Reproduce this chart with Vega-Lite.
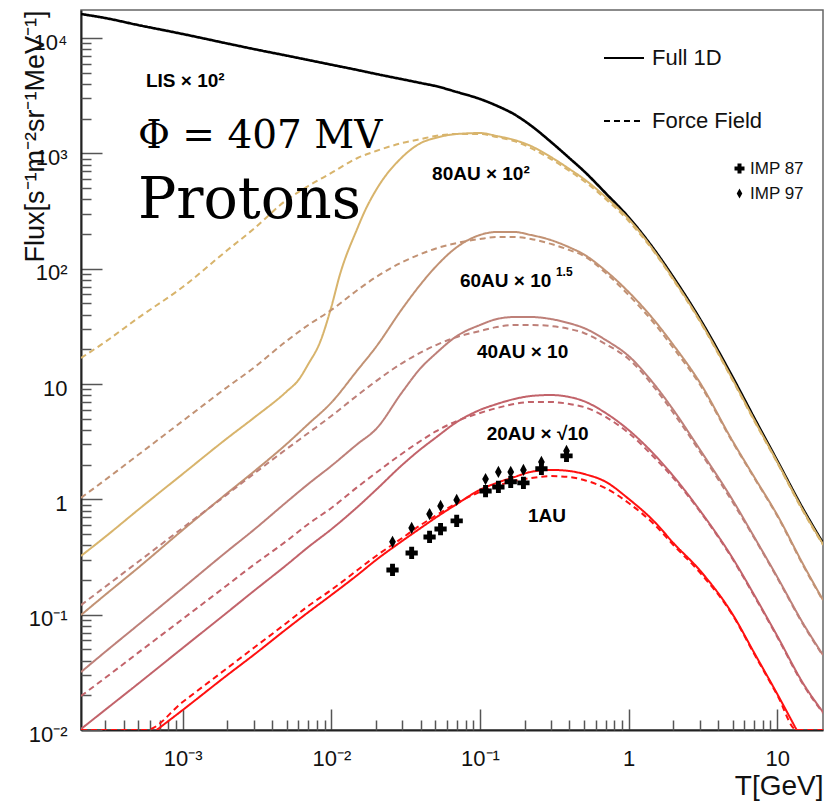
{
  "$schema": "https://vega.github.io/schema/vega-lite/v6.json",
  "autosize": {"type": "none"},
  "padding": {"left": 81, "top": 10, "right": 4, "bottom": 71},
  "width": 742,
  "height": 720,
  "background": "white",
  "config": {
    "view": {"stroke": "#666666", "strokeWidth": 1.5},
    "font": "Liberation Sans",
    "axis": {"grid": false, "labelFont": "Liberation Sans", "titleFont": "Liberation Sans", "labelColor": "#111111", "titleColor": "#111111", "titleFontWeight": "normal", "labelOverlap": false, "labelFlush": false}
  },
  "datasets": {
    "curves": [
      {"curve": "LIS", "model": "Full 1D", "T": 0.000207, "F": 16150},
      {"curve": "LIS", "model": "Full 1D", "T": 0.0003, "F": 14920},
      {"curve": "LIS", "model": "Full 1D", "T": 0.0005, "F": 12970},
      {"curve": "LIS", "model": "Full 1D", "T": 0.001, "F": 10840},
      {"curve": "LIS", "model": "Full 1D", "T": 0.002, "F": 8960},
      {"curve": "LIS", "model": "Full 1D", "T": 0.003, "F": 8030},
      {"curve": "LIS", "model": "Full 1D", "T": 0.005, "F": 7040},
      {"curve": "LIS", "model": "Full 1D", "T": 0.007, "F": 6450},
      {"curve": "LIS", "model": "Full 1D", "T": 0.01, "F": 5870},
      {"curve": "LIS", "model": "Full 1D", "T": 0.015, "F": 5280},
      {"curve": "LIS", "model": "Full 1D", "T": 0.02, "F": 4880},
      {"curve": "LIS", "model": "Full 1D", "T": 0.03, "F": 4390},
      {"curve": "LIS", "model": "Full 1D", "T": 0.04, "F": 4070},
      {"curve": "LIS", "model": "Full 1D", "T": 0.05, "F": 3840},
      {"curve": "LIS", "model": "Full 1D", "T": 0.07, "F": 3400},
      {"curve": "LIS", "model": "Full 1D", "T": 0.1, "F": 2960},
      {"curve": "LIS", "model": "Full 1D", "T": 0.13, "F": 2584},
      {"curve": "LIS", "model": "Full 1D", "T": 0.17, "F": 2181},
      {"curve": "LIS", "model": "Full 1D", "T": 0.22, "F": 1743},
      {"curve": "LIS", "model": "Full 1D", "T": 0.3, "F": 1257},
      {"curve": "LIS", "model": "Full 1D", "T": 0.4, "F": 908},
      {"curve": "LIS", "model": "Full 1D", "T": 0.5, "F": 702},
      {"curve": "LIS", "model": "Full 1D", "T": 0.7, "F": 452},
      {"curve": "LIS", "model": "Full 1D", "T": 1, "F": 279},
      {"curve": "LIS", "model": "Full 1D", "T": 1.5, "F": 144},
      {"curve": "LIS", "model": "Full 1D", "T": 2, "F": 84.2},
      {"curve": "LIS", "model": "Full 1D", "T": 3, "F": 37.1},
      {"curve": "LIS", "model": "Full 1D", "T": 5, "F": 11.5},
      {"curve": "LIS", "model": "Full 1D", "T": 7, "F": 5.07},
      {"curve": "LIS", "model": "Full 1D", "T": 10, "F": 2.16},
      {"curve": "LIS", "model": "Full 1D", "T": 15, "F": 0.813},
      {"curve": "LIS", "model": "Full 1D", "T": 20.3, "F": 0.418},

      {"curve": "80AU", "model": "Force Field", "T": 0.000207, "F": 16.8},
      {"curve": "80AU", "model": "Force Field", "T": 0.0003, "F": 23.1},
      {"curve": "80AU", "model": "Force Field", "T": 0.0005, "F": 37.3},
      {"curve": "80AU", "model": "Force Field", "T": 0.001, "F": 69.3},
      {"curve": "80AU", "model": "Force Field", "T": 0.002, "F": 145},
      {"curve": "80AU", "model": "Force Field", "T": 0.003, "F": 221},
      {"curve": "80AU", "model": "Force Field", "T": 0.005, "F": 394},
      {"curve": "80AU", "model": "Force Field", "T": 0.007, "F": 521},
      {"curve": "80AU", "model": "Force Field", "T": 0.01, "F": 676},
      {"curve": "80AU", "model": "Force Field", "T": 0.015, "F": 912},
      {"curve": "80AU", "model": "Force Field", "T": 0.02, "F": 1048},
      {"curve": "80AU", "model": "Force Field", "T": 0.03, "F": 1230},
      {"curve": "80AU", "model": "Force Field", "T": 0.04, "F": 1331},
      {"curve": "80AU", "model": "Force Field", "T": 0.05, "F": 1413},
      {"curve": "80AU", "model": "Force Field", "T": 0.07, "F": 1472},
      {"curve": "80AU", "model": "Force Field", "T": 0.1, "F": 1472},
      {"curve": "80AU", "model": "Force Field", "T": 0.13, "F": 1386},
      {"curve": "80AU", "model": "Force Field", "T": 0.17, "F": 1279},
      {"curve": "80AU", "model": "Force Field", "T": 0.22, "F": 1112},
      {"curve": "80AU", "model": "Force Field", "T": 0.3, "F": 893},
      {"curve": "80AU", "model": "Force Field", "T": 0.4, "F": 703},
      {"curve": "80AU", "model": "Force Field", "T": 0.5, "F": 576},
      {"curve": "80AU", "model": "Force Field", "T": 0.7, "F": 402},
      {"curve": "80AU", "model": "Force Field", "T": 1, "F": 259},
      {"curve": "80AU", "model": "Force Field", "T": 1.5, "F": 137},
      {"curve": "80AU", "model": "Force Field", "T": 2, "F": 79.8},
      {"curve": "80AU", "model": "Force Field", "T": 3, "F": 35.2},
      {"curve": "80AU", "model": "Force Field", "T": 5, "F": 10.8},
      {"curve": "80AU", "model": "Force Field", "T": 7, "F": 4.78},
      {"curve": "80AU", "model": "Force Field", "T": 10, "F": 2.07},
      {"curve": "80AU", "model": "Force Field", "T": 15, "F": 0.776},
      {"curve": "80AU", "model": "Force Field", "T": 20.3, "F": 0.402},

      {"curve": "80AU", "model": "Full 1D", "T": 0.000207, "F": 0.323},
      {"curve": "80AU", "model": "Full 1D", "T": 0.0003, "F": 0.471},
      {"curve": "80AU", "model": "Full 1D", "T": 0.0005, "F": 0.809},
      {"curve": "80AU", "model": "Full 1D", "T": 0.001, "F": 1.66},
      {"curve": "80AU", "model": "Full 1D", "T": 0.002, "F": 3.4},
      {"curve": "80AU", "model": "Full 1D", "T": 0.003, "F": 5.07},
      {"curve": "80AU", "model": "Full 1D", "T": 0.005, "F": 8.61},
      {"curve": "80AU", "model": "Full 1D", "T": 0.006, "F": 10.8},
      {"curve": "80AU", "model": "Full 1D", "T": 0.007, "F": 14.9},
      {"curve": "80AU", "model": "Full 1D", "T": 0.0084, "F": 23.1},
      {"curve": "80AU", "model": "Full 1D", "T": 0.01, "F": 46.6},
      {"curve": "80AU", "model": "Full 1D", "T": 0.0114, "F": 88.1},
      {"curve": "80AU", "model": "Full 1D", "T": 0.015, "F": 225},
      {"curve": "80AU", "model": "Full 1D", "T": 0.0168, "F": 316},
      {"curve": "80AU", "model": "Full 1D", "T": 0.02, "F": 481},
      {"curve": "80AU", "model": "Full 1D", "T": 0.03, "F": 929},
      {"curve": "80AU", "model": "Full 1D", "T": 0.04, "F": 1230},
      {"curve": "80AU", "model": "Full 1D", "T": 0.05, "F": 1359},
      {"curve": "80AU", "model": "Full 1D", "T": 0.07, "F": 1472},
      {"curve": "80AU", "model": "Full 1D", "T": 0.1, "F": 1500},
      {"curve": "80AU", "model": "Full 1D", "T": 0.13, "F": 1413},
      {"curve": "80AU", "model": "Full 1D", "T": 0.17, "F": 1306},
      {"curve": "80AU", "model": "Full 1D", "T": 0.22, "F": 1158},
      {"curve": "80AU", "model": "Full 1D", "T": 0.3, "F": 929},
      {"curve": "80AU", "model": "Full 1D", "T": 0.4, "F": 731},
      {"curve": "80AU", "model": "Full 1D", "T": 0.5, "F": 600},
      {"curve": "80AU", "model": "Full 1D", "T": 0.7, "F": 419},
      {"curve": "80AU", "model": "Full 1D", "T": 1, "F": 270},
      {"curve": "80AU", "model": "Full 1D", "T": 1.5, "F": 140},
      {"curve": "80AU", "model": "Full 1D", "T": 2, "F": 81.4},
      {"curve": "80AU", "model": "Full 1D", "T": 3, "F": 35.9},
      {"curve": "80AU", "model": "Full 1D", "T": 5, "F": 11.0},
      {"curve": "80AU", "model": "Full 1D", "T": 7, "F": 4.88},
      {"curve": "80AU", "model": "Full 1D", "T": 10, "F": 2.11},
      {"curve": "80AU", "model": "Full 1D", "T": 15, "F": 0.793},
      {"curve": "80AU", "model": "Full 1D", "T": 20.3, "F": 0.41},

      {"curve": "60AU", "model": "Force Field", "T": 0.000207, "F": 1.03},
      {"curve": "60AU", "model": "Force Field", "T": 0.0003, "F": 1.47},
      {"curve": "60AU", "model": "Force Field", "T": 0.0005, "F": 2.42},
      {"curve": "60AU", "model": "Force Field", "T": 0.001, "F": 4.78},
      {"curve": "60AU", "model": "Force Field", "T": 0.002, "F": 9.42},
      {"curve": "60AU", "model": "Force Field", "T": 0.003, "F": 13.8},
      {"curve": "60AU", "model": "Force Field", "T": 0.005, "F": 23.6},
      {"curve": "60AU", "model": "Force Field", "T": 0.007, "F": 32.5},
      {"curve": "60AU", "model": "Force Field", "T": 0.01, "F": 43.8},
      {"curve": "60AU", "model": "Force Field", "T": 0.015, "F": 65.3},
      {"curve": "60AU", "model": "Force Field", "T": 0.02, "F": 84.7},
      {"curve": "60AU", "model": "Force Field", "T": 0.03, "F": 114},
      {"curve": "60AU", "model": "Force Field", "T": 0.04, "F": 134},
      {"curve": "60AU", "model": "Force Field", "T": 0.05, "F": 149},
      {"curve": "60AU", "model": "Force Field", "T": 0.07, "F": 167},
      {"curve": "60AU", "model": "Force Field", "T": 0.1, "F": 181},
      {"curve": "60AU", "model": "Force Field", "T": 0.13, "F": 188},
      {"curve": "60AU", "model": "Force Field", "T": 0.17, "F": 188},
      {"curve": "60AU", "model": "Force Field", "T": 0.22, "F": 181},
      {"curve": "60AU", "model": "Force Field", "T": 0.3, "F": 164},
      {"curve": "60AU", "model": "Force Field", "T": 0.4, "F": 145},
      {"curve": "60AU", "model": "Force Field", "T": 0.5, "F": 129},
      {"curve": "60AU", "model": "Force Field", "T": 0.7, "F": 92},
      {"curve": "60AU", "model": "Force Field", "T": 1, "F": 59.1},
      {"curve": "60AU", "model": "Force Field", "T": 1.5, "F": 33.1},
      {"curve": "60AU", "model": "Force Field", "T": 2, "F": 20.5},
      {"curve": "60AU", "model": "Force Field", "T": 3, "F": 10.0},
      {"curve": "60AU", "model": "Force Field", "T": 5, "F": 3.14},
      {"curve": "60AU", "model": "Force Field", "T": 7, "F": 1.53},
      {"curve": "60AU", "model": "Force Field", "T": 10, "F": 0.718},
      {"curve": "60AU", "model": "Force Field", "T": 15, "F": 0.264},
      {"curve": "60AU", "model": "Force Field", "T": 20.3, "F": 0.132},

      {"curve": "60AU", "model": "Full 1D", "T": 0.000207, "F": 0.0993},
      {"curve": "60AU", "model": "Full 1D", "T": 0.0003, "F": 0.148},
      {"curve": "60AU", "model": "Full 1D", "T": 0.0005, "F": 0.254},
      {"curve": "60AU", "model": "Full 1D", "T": 0.001, "F": 0.542},
      {"curve": "60AU", "model": "Full 1D", "T": 0.002, "F": 1.135},
      {"curve": "60AU", "model": "Full 1D", "T": 0.003, "F": 1.73},
      {"curve": "60AU", "model": "Full 1D", "T": 0.005, "F": 3.02},
      {"curve": "60AU", "model": "Full 1D", "T": 0.007, "F": 4.5},
      {"curve": "60AU", "model": "Full 1D", "T": 0.01, "F": 6.9},
      {"curve": "60AU", "model": "Full 1D", "T": 0.015, "F": 13.2},
      {"curve": "60AU", "model": "Full 1D", "T": 0.02, "F": 21.0},
      {"curve": "60AU", "model": "Full 1D", "T": 0.03, "F": 45},
      {"curve": "60AU", "model": "Full 1D", "T": 0.04, "F": 73.6},
      {"curve": "60AU", "model": "Full 1D", "T": 0.05, "F": 103},
      {"curve": "60AU", "model": "Full 1D", "T": 0.07, "F": 154},
      {"curve": "60AU", "model": "Full 1D", "T": 0.1, "F": 196},
      {"curve": "60AU", "model": "Full 1D", "T": 0.13, "F": 208},
      {"curve": "60AU", "model": "Full 1D", "T": 0.17, "F": 208},
      {"curve": "60AU", "model": "Full 1D", "T": 0.22, "F": 196},
      {"curve": "60AU", "model": "Full 1D", "T": 0.3, "F": 177},
      {"curve": "60AU", "model": "Full 1D", "T": 0.4, "F": 153},
      {"curve": "60AU", "model": "Full 1D", "T": 0.5, "F": 133},
      {"curve": "60AU", "model": "Full 1D", "T": 0.7, "F": 96},
      {"curve": "60AU", "model": "Full 1D", "T": 1, "F": 62.8},
      {"curve": "60AU", "model": "Full 1D", "T": 1.5, "F": 35.2},
      {"curve": "60AU", "model": "Full 1D", "T": 2, "F": 21.8},
      {"curve": "60AU", "model": "Full 1D", "T": 3, "F": 10.4},
      {"curve": "60AU", "model": "Full 1D", "T": 5, "F": 3.21},
      {"curve": "60AU", "model": "Full 1D", "T": 7, "F": 1.56},
      {"curve": "60AU", "model": "Full 1D", "T": 10, "F": 0.731},
      {"curve": "60AU", "model": "Full 1D", "T": 15, "F": 0.27},
      {"curve": "60AU", "model": "Full 1D", "T": 20.3, "F": 0.134},

      {"curve": "40AU", "model": "Force Field", "T": 0.000207, "F": 0.121},
      {"curve": "40AU", "model": "Force Field", "T": 0.0003, "F": 0.174},
      {"curve": "40AU", "model": "Force Field", "T": 0.0005, "F": 0.286},
      {"curve": "40AU", "model": "Force Field", "T": 0.001, "F": 0.565},
      {"curve": "40AU", "model": "Force Field", "T": 0.002, "F": 1.11},
      {"curve": "40AU", "model": "Force Field", "T": 0.003, "F": 1.66},
      {"curve": "40AU", "model": "Force Field", "T": 0.005, "F": 2.73},
      {"curve": "40AU", "model": "Force Field", "T": 0.007, "F": 3.76},
      {"curve": "40AU", "model": "Force Field", "T": 0.01, "F": 5.28},
      {"curve": "40AU", "model": "Force Field", "T": 0.015, "F": 8.0},
      {"curve": "40AU", "model": "Force Field", "T": 0.02, "F": 10.6},
      {"curve": "40AU", "model": "Force Field", "T": 0.03, "F": 15.2},
      {"curve": "40AU", "model": "Force Field", "T": 0.04, "F": 18.8},
      {"curve": "40AU", "model": "Force Field", "T": 0.05, "F": 21.6},
      {"curve": "40AU", "model": "Force Field", "T": 0.07, "F": 25.6},
      {"curve": "40AU", "model": "Force Field", "T": 0.1, "F": 28.8},
      {"curve": "40AU", "model": "Force Field", "T": 0.13, "F": 31.2},
      {"curve": "40AU", "model": "Force Field", "T": 0.17, "F": 32.5},
      {"curve": "40AU", "model": "Force Field", "T": 0.22, "F": 32.5},
      {"curve": "40AU", "model": "Force Field", "T": 0.3, "F": 31.8},
      {"curve": "40AU", "model": "Force Field", "T": 0.4, "F": 30.0},
      {"curve": "40AU", "model": "Force Field", "T": 0.5, "F": 27.7},
      {"curve": "40AU", "model": "Force Field", "T": 0.7, "F": 22.2},
      {"curve": "40AU", "model": "Force Field", "T": 1, "F": 16.5},
      {"curve": "40AU", "model": "Force Field", "T": 1.5, "F": 9.23},
      {"curve": "40AU", "model": "Force Field", "T": 2, "F": 5.61},
      {"curve": "40AU", "model": "Force Field", "T": 3, "F": 2.62},
      {"curve": "40AU", "model": "Force Field", "T": 5, "F": 0.948},
      {"curve": "40AU", "model": "Force Field", "T": 7, "F": 0.462},
      {"curve": "40AU", "model": "Force Field", "T": 10, "F": 0.208},
      {"curve": "40AU", "model": "Force Field", "T": 15, "F": 0.0813},
      {"curve": "40AU", "model": "Force Field", "T": 20.3, "F": 0.0439},

      {"curve": "40AU", "model": "Full 1D", "T": 0.000207, "F": 0.0318},
      {"curve": "40AU", "model": "Full 1D", "T": 0.0003, "F": 0.0474},
      {"curve": "40AU", "model": "Full 1D", "T": 0.0005, "F": 0.0813},
      {"curve": "40AU", "model": "Full 1D", "T": 0.001, "F": 0.17},
      {"curve": "40AU", "model": "Full 1D", "T": 0.002, "F": 0.356},
      {"curve": "40AU", "model": "Full 1D", "T": 0.003, "F": 0.542},
      {"curve": "40AU", "model": "Full 1D", "T": 0.005, "F": 0.948},
      {"curve": "40AU", "model": "Full 1D", "T": 0.007, "F": 1.36},
      {"curve": "40AU", "model": "Full 1D", "T": 0.01, "F": 1.95},
      {"curve": "40AU", "model": "Full 1D", "T": 0.015, "F": 3.02},
      {"curve": "40AU", "model": "Full 1D", "T": 0.02, "F": 4.07},
      {"curve": "40AU", "model": "Full 1D", "T": 0.03, "F": 8.53},
      {"curve": "40AU", "model": "Full 1D", "T": 0.04, "F": 13.8},
      {"curve": "40AU", "model": "Full 1D", "T": 0.05, "F": 18.2},
      {"curve": "40AU", "model": "Full 1D", "T": 0.07, "F": 26.1},
      {"curve": "40AU", "model": "Full 1D", "T": 0.1, "F": 32.5},
      {"curve": "40AU", "model": "Full 1D", "T": 0.13, "F": 36.6},
      {"curve": "40AU", "model": "Full 1D", "T": 0.17, "F": 38.1},
      {"curve": "40AU", "model": "Full 1D", "T": 0.22, "F": 38.1},
      {"curve": "40AU", "model": "Full 1D", "T": 0.3, "F": 36.6},
      {"curve": "40AU", "model": "Full 1D", "T": 0.4, "F": 33.6},
      {"curve": "40AU", "model": "Full 1D", "T": 0.5, "F": 30.6},
      {"curve": "40AU", "model": "Full 1D", "T": 0.7, "F": 24.1},
      {"curve": "40AU", "model": "Full 1D", "T": 1, "F": 17.5},
      {"curve": "40AU", "model": "Full 1D", "T": 1.5, "F": 9.8},
      {"curve": "40AU", "model": "Full 1D", "T": 2, "F": 5.96},
      {"curve": "40AU", "model": "Full 1D", "T": 3, "F": 2.73},
      {"curve": "40AU", "model": "Full 1D", "T": 5, "F": 0.989},
      {"curve": "40AU", "model": "Full 1D", "T": 7, "F": 0.471},
      {"curve": "40AU", "model": "Full 1D", "T": 10, "F": 0.212},
      {"curve": "40AU", "model": "Full 1D", "T": 15, "F": 0.083},
      {"curve": "40AU", "model": "Full 1D", "T": 20.3, "F": 0.0447},

      {"curve": "20AU", "model": "Force Field", "T": 0.000207, "F": 0.0197},
      {"curve": "20AU", "model": "Force Field", "T": 0.0003, "F": 0.0282},
      {"curve": "20AU", "model": "Force Field", "T": 0.0005, "F": 0.0466},
      {"curve": "20AU", "model": "Force Field", "T": 0.001, "F": 0.0917},
      {"curve": "20AU", "model": "Force Field", "T": 0.002, "F": 0.181},
      {"curve": "20AU", "model": "Force Field", "T": 0.003, "F": 0.27},
      {"curve": "20AU", "model": "Force Field", "T": 0.005, "F": 0.436},
      {"curve": "20AU", "model": "Force Field", "T": 0.007, "F": 0.611},
      {"curve": "20AU", "model": "Force Field", "T": 0.01, "F": 0.841},
      {"curve": "20AU", "model": "Force Field", "T": 0.015, "F": 1.28},
      {"curve": "20AU", "model": "Force Field", "T": 0.02, "F": 1.7},
      {"curve": "20AU", "model": "Force Field", "T": 0.03, "F": 2.5},
      {"curve": "20AU", "model": "Force Field", "T": 0.04, "F": 3.22},
      {"curve": "20AU", "model": "Force Field", "T": 0.05, "F": 3.86},
      {"curve": "20AU", "model": "Force Field", "T": 0.07, "F": 4.78},
      {"curve": "20AU", "model": "Force Field", "T": 0.1, "F": 5.61},
      {"curve": "20AU", "model": "Force Field", "T": 0.13, "F": 6.19},
      {"curve": "20AU", "model": "Force Field", "T": 0.17, "F": 6.71},
      {"curve": "20AU", "model": "Force Field", "T": 0.22, "F": 6.98},
      {"curve": "20AU", "model": "Force Field", "T": 0.3, "F": 6.98},
      {"curve": "20AU", "model": "Force Field", "T": 0.4, "F": 6.71},
      {"curve": "20AU", "model": "Force Field", "T": 0.5, "F": 6.32},
      {"curve": "20AU", "model": "Force Field", "T": 0.7, "F": 5.18},
      {"curve": "20AU", "model": "Force Field", "T": 1, "F": 3.76},
      {"curve": "20AU", "model": "Force Field", "T": 1.5, "F": 2.28},
      {"curve": "20AU", "model": "Force Field", "T": 2, "F": 1.53},
      {"curve": "20AU", "model": "Force Field", "T": 3, "F": 0.793},
      {"curve": "20AU", "model": "Force Field", "T": 5, "F": 0.304},
      {"curve": "20AU", "model": "Force Field", "T": 7, "F": 0.145},
      {"curve": "20AU", "model": "Force Field", "T": 10, "F": 0.064},
      {"curve": "20AU", "model": "Force Field", "T": 15, "F": 0.0245},
      {"curve": "20AU", "model": "Force Field", "T": 20.3, "F": 0.014},

      {"curve": "20AU", "model": "Full 1D", "T": 0.000207, "F": 0.0102},
      {"curve": "20AU", "model": "Full 1D", "T": 0.0003, "F": 0.0149},
      {"curve": "20AU", "model": "Full 1D", "T": 0.0005, "F": 0.0251},
      {"curve": "20AU", "model": "Full 1D", "T": 0.001, "F": 0.0514},
      {"curve": "20AU", "model": "Full 1D", "T": 0.002, "F": 0.105},
      {"curve": "20AU", "model": "Full 1D", "T": 0.003, "F": 0.16},
      {"curve": "20AU", "model": "Full 1D", "T": 0.005, "F": 0.27},
      {"curve": "20AU", "model": "Full 1D", "T": 0.007, "F": 0.386},
      {"curve": "20AU", "model": "Full 1D", "T": 0.01, "F": 0.55},
      {"curve": "20AU", "model": "Full 1D", "T": 0.015, "F": 0.859},
      {"curve": "20AU", "model": "Full 1D", "T": 0.02, "F": 1.21},
      {"curve": "20AU", "model": "Full 1D", "T": 0.03, "F": 1.99},
      {"curve": "20AU", "model": "Full 1D", "T": 0.04, "F": 2.73},
      {"curve": "20AU", "model": "Full 1D", "T": 0.05, "F": 3.4},
      {"curve": "20AU", "model": "Full 1D", "T": 0.07, "F": 4.69},
      {"curve": "20AU", "model": "Full 1D", "T": 0.1, "F": 5.96},
      {"curve": "20AU", "model": "Full 1D", "T": 0.13, "F": 6.71},
      {"curve": "20AU", "model": "Full 1D", "T": 0.17, "F": 7.41},
      {"curve": "20AU", "model": "Full 1D", "T": 0.22, "F": 7.87},
      {"curve": "20AU", "model": "Full 1D", "T": 0.3, "F": 8.03},
      {"curve": "20AU", "model": "Full 1D", "T": 0.4, "F": 7.71},
      {"curve": "20AU", "model": "Full 1D", "T": 0.5, "F": 7.1},
      {"curve": "20AU", "model": "Full 1D", "T": 0.7, "F": 5.61},
      {"curve": "20AU", "model": "Full 1D", "T": 1, "F": 3.99},
      {"curve": "20AU", "model": "Full 1D", "T": 1.5, "F": 2.42},
      {"curve": "20AU", "model": "Full 1D", "T": 2, "F": 1.59},
      {"curve": "20AU", "model": "Full 1D", "T": 3, "F": 0.809},
      {"curve": "20AU", "model": "Full 1D", "T": 5, "F": 0.31},
      {"curve": "20AU", "model": "Full 1D", "T": 7, "F": 0.148},
      {"curve": "20AU", "model": "Full 1D", "T": 10, "F": 0.0653},
      {"curve": "20AU", "model": "Full 1D", "T": 15, "F": 0.0251},
      {"curve": "20AU", "model": "Full 1D", "T": 20.3, "F": 0.0143},

      {"curve": "1AU", "model": "Force Field", "T": 0.000207, "F": 0.0038},
      {"curve": "1AU", "model": "Force Field", "T": 0.0005, "F": 0.0089},
      {"curve": "1AU", "model": "Force Field", "T": 0.000566, "F": 0.01},
      {"curve": "1AU", "model": "Force Field", "T": 0.001, "F": 0.0175},
      {"curve": "1AU", "model": "Force Field", "T": 0.002, "F": 0.0345},
      {"curve": "1AU", "model": "Force Field", "T": 0.003, "F": 0.0514},
      {"curve": "1AU", "model": "Force Field", "T": 0.005, "F": 0.0848},
      {"curve": "1AU", "model": "Force Field", "T": 0.007, "F": 0.119},
      {"curve": "1AU", "model": "Force Field", "T": 0.01, "F": 0.164},
      {"curve": "1AU", "model": "Force Field", "T": 0.015, "F": 0.244},
      {"curve": "1AU", "model": "Force Field", "T": 0.02, "F": 0.323},
      {"curve": "1AU", "model": "Force Field", "T": 0.03, "F": 0.462},
      {"curve": "1AU", "model": "Force Field", "T": 0.04, "F": 0.6},
      {"curve": "1AU", "model": "Force Field", "T": 0.05, "F": 0.718},
      {"curve": "1AU", "model": "Force Field", "T": 0.07, "F": 0.929},
      {"curve": "1AU", "model": "Force Field", "T": 0.1, "F": 1.16},
      {"curve": "1AU", "model": "Force Field", "T": 0.13, "F": 1.31},
      {"curve": "1AU", "model": "Force Field", "T": 0.17, "F": 1.44},
      {"curve": "1AU", "model": "Force Field", "T": 0.22, "F": 1.53},
      {"curve": "1AU", "model": "Force Field", "T": 0.3, "F": 1.59},
      {"curve": "1AU", "model": "Force Field", "T": 0.4, "F": 1.56},
      {"curve": "1AU", "model": "Force Field", "T": 0.5, "F": 1.47},
      {"curve": "1AU", "model": "Force Field", "T": 0.7, "F": 1.25},
      {"curve": "1AU", "model": "Force Field", "T": 1, "F": 0.929},
      {"curve": "1AU", "model": "Force Field", "T": 1.5, "F": 0.6},
      {"curve": "1AU", "model": "Force Field", "T": 2, "F": 0.402},
      {"curve": "1AU", "model": "Force Field", "T": 3, "F": 0.234},
      {"curve": "1AU", "model": "Force Field", "T": 5, "F": 0.0993},
      {"curve": "1AU", "model": "Force Field", "T": 7, "F": 0.0456},
      {"curve": "1AU", "model": "Force Field", "T": 10, "F": 0.0201},
      {"curve": "1AU", "model": "Force Field", "T": 13.5, "F": 0.01},
      {"curve": "1AU", "model": "Force Field", "T": 15, "F": 0.0085},
      {"curve": "1AU", "model": "Force Field", "T": 20.3, "F": 0.0045},

      {"curve": "1AU", "model": "Full 1D", "T": 0.000668, "F": 0.01},
      {"curve": "1AU", "model": "Full 1D", "T": 0.001, "F": 0.0149},
      {"curve": "1AU", "model": "Full 1D", "T": 0.002, "F": 0.03},
      {"curve": "1AU", "model": "Full 1D", "T": 0.003, "F": 0.0447},
      {"curve": "1AU", "model": "Full 1D", "T": 0.005, "F": 0.0752},
      {"curve": "1AU", "model": "Full 1D", "T": 0.007, "F": 0.105},
      {"curve": "1AU", "model": "Full 1D", "T": 0.01, "F": 0.148},
      {"curve": "1AU", "model": "Full 1D", "T": 0.015, "F": 0.221},
      {"curve": "1AU", "model": "Full 1D", "T": 0.02, "F": 0.298},
      {"curve": "1AU", "model": "Full 1D", "T": 0.03, "F": 0.436},
      {"curve": "1AU", "model": "Full 1D", "T": 0.04, "F": 0.565},
      {"curve": "1AU", "model": "Full 1D", "T": 0.05, "F": 0.689},
      {"curve": "1AU", "model": "Full 1D", "T": 0.07, "F": 0.912},
      {"curve": "1AU", "model": "Full 1D", "T": 0.1, "F": 1.21},
      {"curve": "1AU", "model": "Full 1D", "T": 0.13, "F": 1.39},
      {"curve": "1AU", "model": "Full 1D", "T": 0.17, "F": 1.56},
      {"curve": "1AU", "model": "Full 1D", "T": 0.22, "F": 1.73},
      {"curve": "1AU", "model": "Full 1D", "T": 0.3, "F": 1.8},
      {"curve": "1AU", "model": "Full 1D", "T": 0.4, "F": 1.76},
      {"curve": "1AU", "model": "Full 1D", "T": 0.5, "F": 1.66},
      {"curve": "1AU", "model": "Full 1D", "T": 0.7, "F": 1.42},
      {"curve": "1AU", "model": "Full 1D", "T": 1, "F": 1.01},
      {"curve": "1AU", "model": "Full 1D", "T": 1.5, "F": 0.635},
      {"curve": "1AU", "model": "Full 1D", "T": 2, "F": 0.418},
      {"curve": "1AU", "model": "Full 1D", "T": 3, "F": 0.244},
      {"curve": "1AU", "model": "Full 1D", "T": 5, "F": 0.101},
      {"curve": "1AU", "model": "Full 1D", "T": 7, "F": 0.0466},
      {"curve": "1AU", "model": "Full 1D", "T": 10, "F": 0.0205},
      {"curve": "1AU", "model": "Full 1D", "T": 13.5, "F": 0.01}
    ],
    "imp": [
      {"set": "IMP 87", "T": 0.0258, "F": 0.244},
      {"set": "IMP 87", "T": 0.0347, "F": 0.343},
      {"set": "IMP 87", "T": 0.0458, "F": 0.472},
      {"set": "IMP 87", "T": 0.0543, "F": 0.553},
      {"set": "IMP 87", "T": 0.0697, "F": 0.65},
      {"set": "IMP 87", "T": 0.109, "F": 1.18},
      {"set": "IMP 87", "T": 0.133, "F": 1.28},
      {"set": "IMP 87", "T": 0.161, "F": 1.42},
      {"set": "IMP 87", "T": 0.196, "F": 1.39},
      {"set": "IMP 87", "T": 0.259, "F": 1.84},
      {"set": "IMP 87", "T": 0.382, "F": 2.38},
      {"set": "IMP 97", "T": 0.0258, "F": 0.428},
      {"set": "IMP 97", "T": 0.0347, "F": 0.565},
      {"set": "IMP 97", "T": 0.0458, "F": 0.746},
      {"set": "IMP 97", "T": 0.0543, "F": 0.877},
      {"set": "IMP 97", "T": 0.0697, "F": 0.989},
      {"set": "IMP 97", "T": 0.109, "F": 1.5},
      {"set": "IMP 97", "T": 0.133, "F": 1.73},
      {"set": "IMP 97", "T": 0.161, "F": 1.73},
      {"set": "IMP 97", "T": 0.196, "F": 1.8},
      {"set": "IMP 97", "T": 0.259, "F": 2.11},
      {"set": "IMP 97", "T": 0.382, "F": 2.63}
    ]
  },
  "layer": [
    {
      "data": {"name": "curves"},
      "mark": {"type": "line", "clip": true, "strokeCap": "butt", "interpolate": "monotone"},
      "encoding": {
        "x": {
          "field": "T", "type": "quantitative",
          "scale": {"type": "log", "domain": [0.000207, 20.3], "nice": false},
          "axis": {
            "orient": "bottom",
            "values": [0.001, 0.01, 0.1, 1, 10],
            "labelExpr": "round(log(datum.value)/LN10) == -3 ? '10⁻³' : round(log(datum.value)/LN10) == -2 ? '10⁻²' : round(log(datum.value)/LN10) == -1 ? '10⁻¹' : round(log(datum.value)/LN10) == 0 ? '1' : '10'",
            "tickSize": -21, "tickWidth": 1.5, "tickColor": "#555555",
            "domainColor": "#222222", "domainWidth": 2,
            "labelFontSize": 22, "labelPadding": 39,
            "title": "T[GeV]", "titleFontSize": 28, "titleAlign": "right", "titleAnchor": "end",
            "titleX": 742, "titleY": 64, "titleBaseline": "alphabetic"
          }
        },
        "y": {
          "field": "F", "type": "quantitative",
          "scale": {"type": "log", "domain": [0.01, 17500], "nice": false, "clamp": true},
          "axis": {
            "orient": "left",
            "values": [0.01, 0.1, 1, 10, 100, 1000, 10000],
            "labelExpr": "round(log(datum.value)/LN10) == -2 ? '10⁻²' : round(log(datum.value)/LN10) == -1 ? '10⁻¹' : round(log(datum.value)/LN10) == 0 ? '1' : round(log(datum.value)/LN10) == 1 ? '10' : round(log(datum.value)/LN10) == 2 ? '10²' : round(log(datum.value)/LN10) == 3 ? '10³' : '10⁴'",
            "tickSize": -21, "tickWidth": 1.5, "tickColor": "#555555",
            "domainColor": "#222222", "domainWidth": 2,
            "labelFontSize": 22, "labelPadding": 35, "labelOffset": 4,
            "title": "Flux[s⁻¹m⁻²sr⁻¹MeV⁻¹]", "titleFontSize": 27, "titleAngle": -90,
            "titleAlign": "right", "titleAnchor": "end", "titleBaseline": "alphabetic",
            "titleX": -38, "titleY": 0
          }
        },
        "color": {
          "field": "curve", "type": "nominal",
          "scale": {
            "domain": ["LIS", "80AU", "60AU", "40AU", "20AU", "1AU"],
            "range": ["#000000", "#d8b46c", "#c29274", "#be8079", "#c2636a", "#ff1010"]
          },
          "legend": null
        },
        "strokeDash": {
          "field": "model", "type": "nominal",
          "scale": {"domain": ["Full 1D", "Force Field"], "range": [[1, 0], [6, 4]]},
          "legend": {
            "orient": "none", "legendX": 522, "legendY": 27, "title": null, "padding": 0,
            "symbolType": "stroke", "symbolSize": 1600, "symbolStrokeWidth": 2, "symbolStrokeColor": "#000000",
            "labelFontSize": 22, "labelFont": "Liberation Sans", "labelColor": "#111111", "labelOffset": 7,
            "rowPadding": 31
          }
        },
        "detail": {"field": "model"},
        "strokeWidth": {"condition": {"test": "datum.curve === 'LIS'", "value": 2.6}, "value": 2}
      }
    },
    {
      "data": {"name": "imp"},
      "mark": {"type": "point", "filled": true, "color": "#000000", "opacity": 1, "strokeWidth": 0, "size": 150},
      "encoding": {
        "x": {
          "field": "T", "type": "quantitative",
          "axis": {
            "orient": "bottom", "labels": false, "domain": false, "title": null,
            "values": [0.0003, 0.0004, 0.0005, 0.0006, 0.0007, 0.0008, 0.0009, 0.002, 0.003, 0.004, 0.005, 0.006, 0.007, 0.008, 0.009, 0.02, 0.03, 0.04, 0.05, 0.06, 0.07, 0.08, 0.09, 0.2, 0.3, 0.4, 0.5, 0.6, 0.7, 0.8, 0.9, 2, 3, 4, 5, 6, 7, 8, 9],
            "tickSize": -10, "tickWidth": 1.5, "tickColor": "#555555"
          }
        },
        "y": {
          "field": "F", "type": "quantitative",
          "axis": {
            "orient": "left", "labels": false, "domain": false, "title": null,
            "values": [0.02, 0.03, 0.04, 0.05, 0.06, 0.07, 0.08, 0.09, 0.2, 0.3, 0.4, 0.5, 0.6, 0.7, 0.8, 0.9, 2, 3, 4, 5, 6, 7, 8, 9, 20, 30, 40, 50, 60, 70, 80, 90, 200, 300, 400, 500, 600, 700, 800, 900, 2000, 3000, 4000, 5000, 6000, 7000, 8000, 9000],
            "tickSize": -10, "tickWidth": 1.5, "tickColor": "#555555"
          }
        },
        "shape": {
          "field": "set", "type": "nominal",
          "scale": {"domain": ["IMP 87", "IMP 97"], "range": ["cross", "M0,-1L0.55,0L0,1L-0.55,0Z"]},
          "legend": {
            "orient": "none", "legendX": 650, "legendY": 150, "title": null, "padding": 0,
            "symbolSize": 100, "symbolFillColor": "#000000", "symbolStrokeWidth": 0,
            "labelFontSize": 17, "labelFont": "Liberation Sans", "labelColor": "#111111", "labelOffset": 2,
            "rowPadding": 7
          }
        }
      }
    },
    {
      "data": {"values": [
        {"text": "LIS × 10²", "T": 0.000566, "F": 3760},
        {"text": "80AU × 10²", "T": 0.0476, "F": 587},
        {"text": "60AU × 10", "T": 0.0733, "F": 69.4},
        {"text": "40AU × 10", "T": 0.0953, "F": 16.8},
        {"text": "20AU × √10", "T": 0.111, "F": 3.27},
        {"text": "1AU", "T": 0.21, "F": 0.637}
      ]},
      "mark": {"type": "text", "align": "left", "baseline": "alphabetic", "font": "Liberation Sans", "fontWeight": "bold", "fontSize": 19, "color": "#000000"},
      "encoding": {
        "x": {"field": "T", "type": "quantitative", "axis": null},
        "y": {"field": "F", "type": "quantitative", "axis": null},
        "text": {"field": "text"}
      }
    },
    {
      "data": {"values": [{"text": "1.5", "T": 0.324, "F": 86.5}]},
      "mark": {"type": "text", "align": "left", "baseline": "alphabetic", "font": "Liberation Sans", "fontWeight": "bold", "fontSize": 12, "color": "#000000"},
      "encoding": {
        "x": {"field": "T", "type": "quantitative", "axis": null},
        "y": {"field": "F", "type": "quantitative", "axis": null},
        "text": {"field": "text"}
      }
    },
    {
      "data": {"values": [{"text": "Φ = 407 MV", "T": 0.0005, "F": 1112}]},
      "mark": {"type": "text", "align": "left", "baseline": "alphabetic", "font": "DejaVu Serif", "fontSize": 39, "color": "#000000"},
      "encoding": {
        "x": {"field": "T", "type": "quantitative", "axis": null},
        "y": {"field": "F", "type": "quantitative", "axis": null},
        "text": {"field": "text"}
      }
    },
    {
      "data": {"values": [{"text": "Protons", "T": 0.0005, "F": 275}]},
      "mark": {"type": "text", "align": "left", "baseline": "alphabetic", "font": "DejaVu Serif", "fontSize": 57, "color": "#000000"},
      "encoding": {
        "x": {"field": "T", "type": "quantitative", "axis": null},
        "y": {"field": "F", "type": "quantitative", "axis": null},
        "text": {"field": "text"}
      }
    }
  ],
  "resolve": {"axis": {"x": "independent", "y": "independent"}}
}
